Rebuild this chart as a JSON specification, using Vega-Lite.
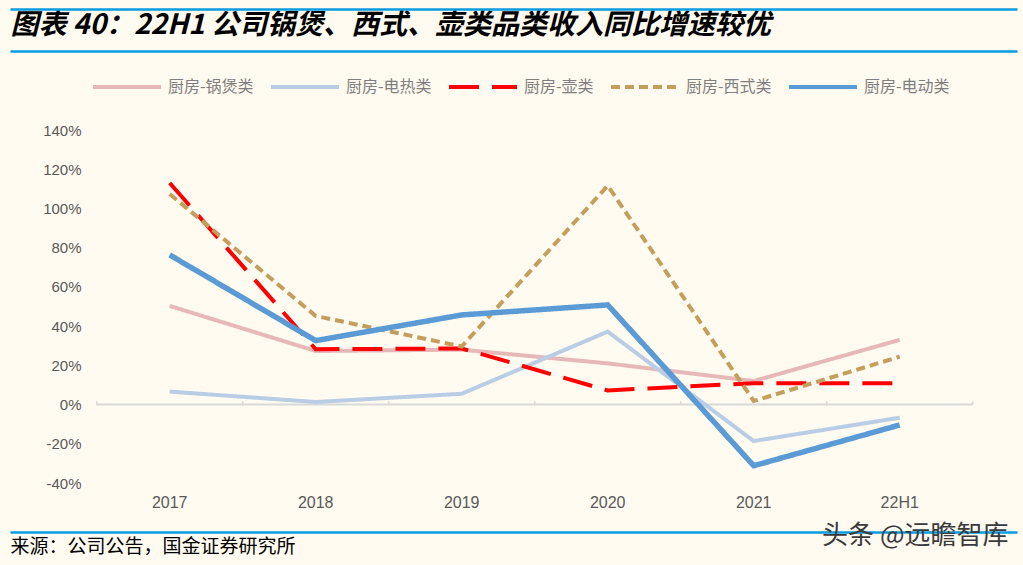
{
  "$schema": "https://vega.github.io/schema/vega-lite/v6.json",
  "width": 1007,
  "height": 353,
  "autosize": {"type": "none"},
  "padding": {"left": 10, "top": 130, "right": 6, "bottom": 82},
  "background": "#FFFBF0",
  "config": {"view": {"stroke": null}, "font": "Liberation Sans"},
  "datasets": {
    "growth": [
      {"年份": "2017", "系列": "厨房-锅煲类", "增速": 50.3},
      {"年份": "2018", "系列": "厨房-锅煲类", "增速": 27.3},
      {"年份": "2019", "系列": "厨房-锅煲类", "增速": 28},
      {"年份": "2020", "系列": "厨房-锅煲类", "增速": 21},
      {"年份": "2021", "系列": "厨房-锅煲类", "增速": 12},
      {"年份": "22H1", "系列": "厨房-锅煲类", "增速": 33},
      {"年份": "2017", "系列": "厨房-电热类", "增速": 6.6},
      {"年份": "2018", "系列": "厨房-电热类", "增速": 1.3},
      {"年份": "2019", "系列": "厨房-电热类", "增速": 5.5},
      {"年份": "2020", "系列": "厨房-电热类", "增速": 37.2},
      {"年份": "2021", "系列": "厨房-电热类", "增速": -18.6},
      {"年份": "22H1", "系列": "厨房-电热类", "增速": -6.7},
      {"年份": "2017", "系列": "厨房-壶类", "增速": 113},
      {"年份": "2018", "系列": "厨房-壶类", "增速": 28.2},
      {"年份": "2019", "系列": "厨房-壶类", "增速": 28.6},
      {"年份": "2020", "系列": "厨房-壶类", "增速": 7.2},
      {"年份": "2021", "系列": "厨房-壶类", "增速": 10.9},
      {"年份": "22H1", "系列": "厨房-壶类", "增速": 10.9},
      {"年份": "2017", "系列": "厨房-西式类", "增速": 107.4},
      {"年份": "2018", "系列": "厨房-西式类", "增速": 45.2},
      {"年份": "2019", "系列": "厨房-西式类", "增速": 29.6},
      {"年份": "2020", "系列": "厨房-西式类", "增速": 111.6},
      {"年份": "2021", "系列": "厨房-西式类", "增速": 1.8},
      {"年份": "22H1", "系列": "厨房-西式类", "增速": 24.4},
      {"年份": "2017", "系列": "厨房-电动类", "增速": 76.3},
      {"年份": "2018", "系列": "厨房-电动类", "增速": 32.6},
      {"年份": "2019", "系列": "厨房-电动类", "增速": 45.7},
      {"年份": "2020", "系列": "厨房-电动类", "增速": 50.8},
      {"年份": "2021", "系列": "厨房-电动类", "增速": -31.2},
      {"年份": "22H1", "系列": "厨房-电动类", "增速": -10.4}
    ],
    "cats": [
      {"年份": "2017"}, {"年份": "2018"}, {"年份": "2019"},
      {"年份": "2020"}, {"年份": "2021"}, {"年份": "22H1"}
    ]
  },
  "layer": [
    {
      "data": {"name": "cats"},
      "mark": {"type": "rule", "color": "#D9D9D9", "strokeWidth": 2},
      "encoding": {
        "x": {
          "field": "年份", "type": "ordinal", "bandPosition": 0,
          "scale": {"type": "band", "domain": ["2017", "2018", "2019", "2020", "2021", "22H1"], "paddingInner": 0, "paddingOuter": 0.4486, "align": 0.662},
          "axis": {
            "orient": "top", "offset": 79, "domain": true, "domainColor": "#0A9BE0", "domainWidth": 2.5,
            "labels": false, "ticks": false, "grid": false,
            "title": "图表 40：22H1 公司锅煲、西式、壶类品类收入同比增速较优",
            "titleAnchor": "start", "titleFont": "Noto Sans CJK SC", "titleFontSize": 28,
            "titleFontWeight": "bold", "titleFontStyle": "italic", "titleColor": "#000000", "titlePadding": 12
          }
        },
        "x2": {"field": "年份", "bandPosition": 1},
        "y": {"datum": 0, "type": "quantitative", "axis": null}
      }
    },
    {
      "data": {"name": "cats"},
      "mark": {"type": "rule", "color": "#D9D9D9", "strokeWidth": 1.5},
      "encoding": {
        "x": {
          "field": "年份", "type": "ordinal", "bandPosition": 0,
          "axis": {
            "orient": "top", "offset": 121, "domain": true, "domainColor": "#0A9BE0", "domainWidth": 2.5,
            "labels": false, "ticks": false, "grid": false, "title": null
          }
        },
        "y": {"datum": 0, "type": "quantitative", "axis": null},
        "y2": {"datum": 1.7}
      }
    },
    {
      "data": {"name": "cats"},
      "transform": [{"filter": "datum['年份'] === '22H1'"}],
      "mark": {"type": "rule", "color": "#D9D9D9", "strokeWidth": 1.5},
      "encoding": {
        "x": {
          "field": "年份", "type": "ordinal", "bandPosition": 1,
          "axis": {
            "orient": "bottom", "offset": 49, "domain": true, "domainColor": "#0A9BE0", "domainWidth": 2.5,
            "labels": false, "ticks": false, "grid": false,
            "title": "来源：公司公告，国金证券研究所",
            "titleAnchor": "start", "titleFont": "Noto Sans CJK SC", "titleFontSize": 19,
            "titleFontWeight": "normal", "titleColor": "#000000", "titlePadding": 5
          }
        },
        "y": {"datum": 0, "type": "quantitative", "axis": null},
        "y2": {"datum": 1.7}
      }
    },
    {
      "data": {"name": "growth"},
      "mark": {"type": "line", "strokeCap": "butt", "strokeJoin": "miter"},
      "encoding": {
        "x": {
          "field": "年份", "type": "ordinal", "bandPosition": 0.5,
          "axis": {
            "orient": "bottom", "domain": false, "ticks": false, "grid": false,
            "labelAngle": 0, "labelPadding": 11, "labelFontSize": 16, "labelColor": "#595959",
            "title": "头条 @远瞻智库", "titleAnchor": "end", "titleX": 998, "titleFont": "Noto Sans CJK SC",
            "titleFontSize": 26, "titleFontWeight": "normal", "titleColor": "#3A3A3A", "titlePadding": 12
          }
        },
        "y": {
          "field": "增速", "type": "quantitative",
          "scale": {"domain": [-40, 140], "nice": false, "zero": false},
          "axis": {
            "values": [-40, -20, 0, 20, 40, 60, 80, 100, 120, 140],
            "labelExpr": "datum.value + '%'",
            "grid": false, "domain": false, "ticks": false,
            "labelPadding": 4, "offset": -75, "labelFontSize": 15, "labelColor": "#595959", "title": null
          }
        },
        "color": {
          "field": "系列", "type": "nominal",
          "scale": {
            "domain": ["厨房-锅煲类", "厨房-电热类", "厨房-壶类", "厨房-西式类", "厨房-电动类"],
            "range": ["#E6B8B7", "#B9CDE5", "#FF0000", "#C39E5D", "#5B9BD5"]
          },
          "legend": {
            "orient": "none", "legendX": 81, "legendY": -79, "direction": "horizontal", "columns": 5,
            "title": null, "symbolType": "stroke", "symbolSize": 4624, "symbolStrokeWidth": 4,
            "labelFont": "Noto Sans CJK SC", "labelFontSize": 16, "labelColor": "#7F7F7F",
            "labelOffset": 5, "columnPadding": 9, "padding": 0, "labelLimit": 200
          }
        },
        "strokeDash": {
          "field": "系列", "type": "nominal",
          "scale": {
            "domain": ["厨房-锅煲类", "厨房-电热类", "厨房-壶类", "厨房-西式类", "厨房-电动类"],
            "range": [[1, 0], [1, 0], [30, 13], [9, 5], [1, 0]]
          },
          "legend": {
            "orient": "none", "legendX": 81, "legendY": -79, "direction": "horizontal", "columns": 5,
            "title": null, "symbolType": "stroke", "symbolSize": 4624, "symbolStrokeWidth": 4,
            "labelFont": "Noto Sans CJK SC", "labelFontSize": 16, "labelColor": "#7F7F7F",
            "labelOffset": 5, "columnPadding": 9, "padding": 0, "labelLimit": 200
          }
        },
        "strokeWidth": {
          "condition": {"test": "datum['系列'] === '厨房-电动类'", "value": 5.5},
          "value": 4
        }
      }
    }
  ],
  "resolve": {"axis": {"x": "independent", "y": "independent"}}
}
